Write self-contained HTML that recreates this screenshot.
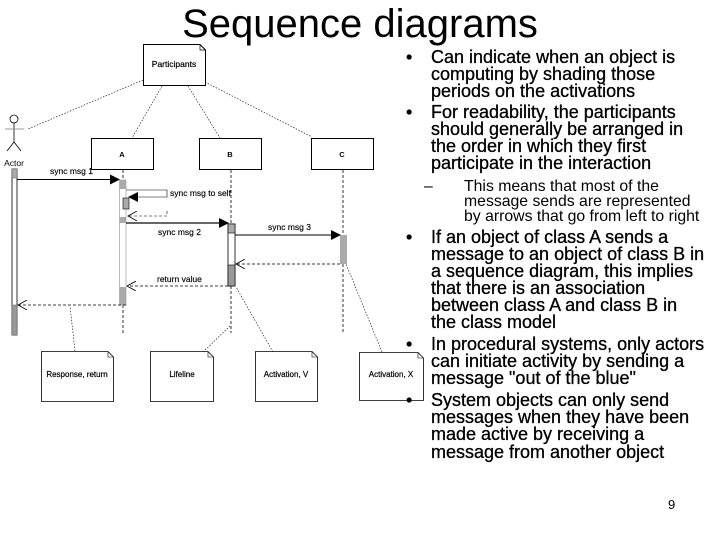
<!DOCTYPE html>
<html><head><meta charset="utf-8"><style>
html,body{margin:0;padding:0;background:#fff;}
body{width:720px;height:540px;overflow:hidden;position:relative;}
svg{position:absolute;left:0;top:0;}
</style></head><body>
<svg width="720" height="540" viewBox="0 0 720 540" font-family="Liberation Sans, Arial, sans-serif">
<defs>
<marker id="fa" markerWidth="10" markerHeight="10" refX="9" refY="5" orient="auto" markerUnits="userSpaceOnUse"><path d="M0,0 L10,5 L0,10 Z" fill="#000"/></marker>
<marker id="oa" markerWidth="10" markerHeight="10" refX="9" refY="5" orient="auto" markerUnits="userSpaceOnUse"><path d="M0,0 L9,5 L0,10" fill="none" stroke="#000" stroke-width="0.8"/></marker>
</defs>
<text x="360" y="37" font-size="40" text-anchor="middle">Sequence diagrams</text>

<path d="M143.5,44.5 H200 L205.5,50 V85.5 H143.5 Z" fill="#fff" stroke="#000"/>
<path d="M200,44.5 V50 H205.5" fill="none" stroke="#000" stroke-width="0.7"/>
<text x="174" y="67" font-size="8.5" text-anchor="middle" stroke="#000" stroke-width="0.2">Participants</text>
<g stroke="#000" stroke-width="0.6" stroke-dasharray="1.5,1.5" fill="none">
<line x1="143" y1="80" x2="28" y2="129"/>
<line x1="162" y1="86" x2="132" y2="138"/>
<line x1="188" y1="86" x2="220" y2="138"/>
<line x1="205" y1="82" x2="312" y2="137"/>
<line x1="75" y1="351" x2="70" y2="306"/>
<line x1="203" y1="352" x2="230" y2="326"/>
<line x1="273" y1="352" x2="236" y2="287"/>
<line x1="382" y1="352" x2="346" y2="264"/>
</g>

<circle cx="14" cy="119" r="4" fill="#fff" stroke="#000" stroke-width="0.8"/>
<line x1="14" y1="123" x2="14" y2="142" stroke="#000" stroke-width="0.8"/>
<line x1="5" y1="129" x2="24" y2="129" stroke="#999" stroke-width="1"/>
<line x1="14" y1="142" x2="7" y2="151" stroke="#000" stroke-width="0.8"/>
<line x1="14" y1="142" x2="21" y2="151" stroke="#000" stroke-width="0.8"/>
<text x="14" y="166" font-size="8.5" text-anchor="middle">Actor</text>

<rect x="91.5" y="138.5" width="62" height="31" fill="#fff" stroke="#000"/>
<text x="122" y="157" font-size="7.5" font-weight="bold" text-anchor="middle">A</text>
<rect x="199.5" y="138.5" width="62" height="31" fill="#fff" stroke="#000"/>
<text x="230" y="157" font-size="7.5" font-weight="bold" text-anchor="middle">B</text>
<rect x="311.5" y="138.5" width="62" height="31" fill="#fff" stroke="#000"/>
<text x="342" y="157" font-size="7.5" font-weight="bold" text-anchor="middle">C</text>

<g stroke="#000" stroke-width="0.8" stroke-dasharray="3,2">
<line x1="123" y1="170" x2="123" y2="180"/>
<line x1="123" y1="305" x2="123" y2="333"/>
<line x1="231" y1="170" x2="231" y2="224"/>
<line x1="231" y1="286" x2="231" y2="333"/>
<line x1="343" y1="170" x2="343" y2="235"/>
<line x1="343" y1="264" x2="343" y2="333"/>
</g>

<rect x="12" y="169" width="5" height="166" fill="#fff" stroke="#000" stroke-width="0.8"/>
<rect x="12" y="169" width="5" height="9" fill="#aaa" stroke="#666" stroke-width="0.5"/>
<rect x="12" y="305" width="5" height="30" fill="#999" stroke="#666" stroke-width="0.5"/>
<rect x="119.5" y="180" width="6.5" height="125" fill="#fff" stroke="#bbb" stroke-width="1"/>
<rect x="119.5" y="180" width="6.5" height="9" fill="#aaa"/>
<rect x="119.5" y="217" width="6.5" height="6" fill="#aaa"/>
<rect x="119.5" y="287" width="6.5" height="18" fill="#aaa"/>
<rect x="123" y="198" width="6" height="11" fill="#aaa" stroke="#000" stroke-width="0.6"/>
<rect x="228" y="224" width="7" height="62" fill="#fff" stroke="#000" stroke-width="0.8"/>
<rect x="228" y="224" width="7" height="9" fill="#aaa" stroke="#000" stroke-width="0.6"/>
<rect x="228" y="265" width="7" height="21" fill="#999" stroke="#000" stroke-width="0.6"/>
<rect x="340" y="235" width="7" height="29" fill="#aaa"/>

<g font-size="8.5" stroke="#000" stroke-width="0.15">
<text x="50" y="174">sync msg 1</text>
<text x="170" y="196">sync msg to self</text>
<text x="158" y="235">sync msg 2</text>
<text x="268" y="230">sync msg 3</text>
<text x="157" y="282">return value</text>
</g>
<line x1="17" y1="179.5" x2="119" y2="179.5" stroke="#000" stroke-width="1" marker-end="url(#fa)"/>
<polyline points="126,190 167,190 167,197 129,197" fill="none" stroke="#000" stroke-width="0.6" marker-end="url(#fa)"/>
<polyline points="167,211 167,216 128,216" fill="none" stroke="#000" stroke-width="0.6" stroke-dasharray="3,2" marker-end="url(#oa)"/>
<line x1="126" y1="223" x2="228" y2="223" stroke="#333" stroke-width="1.5" marker-end="url(#fa)"/>
<line x1="235" y1="235" x2="340" y2="235" stroke="#000" stroke-width="1" marker-end="url(#fa)"/>
<line x1="340" y1="264" x2="236" y2="264" stroke="#000" stroke-width="0.7" stroke-dasharray="3,2" marker-end="url(#oa)"/>
<line x1="228" y1="286" x2="127" y2="286" stroke="#000" stroke-width="0.7" stroke-dasharray="3,2" marker-end="url(#oa)"/>
<line x1="126" y1="305" x2="18" y2="305" stroke="#000" stroke-width="0.7" stroke-dasharray="3,2" marker-end="url(#oa)"/>

<g fill="#fff" stroke="#000" stroke-width="0.8">
<path d="M41.5,351.5 H108 L113.5,357 V401.5 H41.5 Z"/>
<path d="M150.5,351.5 H208 L213.5,357 V401.5 H150.5 Z"/>
<path d="M255.5,351.5 H312 L317.5,357 V401.5 H255.5 Z"/>
<path d="M359.5,352.5 H418 L423.5,358 V400.5 H359.5 Z"/>
</g>
<g fill="none" stroke="#000" stroke-width="0.6">
<path d="M108,351.5 V357 H113.5"/><path d="M208,351.5 V357 H213.5"/>
<path d="M312,351.5 V357 H317.5"/><path d="M418,352.5 V358 H423.5"/>
</g>
<g font-size="8" text-anchor="middle" stroke="#000" stroke-width="0.2">
<text x="77" y="377">Response, return</text>
<text x="182" y="377">Lifeline</text>
<text x="286" y="377">Activation, V</text>
<text x="391" y="377">Activation, X</text>
</g>

<g font-size="18" stroke="#000" stroke-width="0.3">
<text x="406" y="63">•</text><text x="431" y="63">Can indicate when an object is</text>
<text x="431" y="80">computing by shading those</text>
<text x="431" y="97">periods on the activations</text>
<text x="406" y="118">•</text><text x="431" y="118">For readability, the participants</text>
<text x="431" y="135">should generally be arranged in</text>
<text x="431" y="152">the order in which they first</text>
<text x="431" y="169">participate in the interaction</text>
</g>
<g font-size="15.8">
<text x="424" y="191">–</text><text x="464" y="191">This means that most of the</text>
<text x="464" y="206">message sends are represented</text>
<text x="464" y="221">by arrows that go from left to right</text>
</g>
<g font-size="18" stroke="#000" stroke-width="0.3">
<text x="406" y="243">•</text><text x="431" y="243">If an object of class A sends a</text>
<text x="431" y="260">message to an object of class B in</text>
<text x="431" y="277">a sequence diagram, this implies</text>
<text x="431" y="294">that there is an association</text>
<text x="431" y="311">between class A and class B in</text>
<text x="431" y="328">the class model</text>
<text x="406" y="350">•</text><text x="431" y="350">In procedural systems, only actors</text>
<text x="431" y="367">can initiate activity by sending a</text>
<text x="431" y="384">message "out of the blue"</text>
<text x="406" y="406">•</text><text x="431" y="406">System objects can only send</text>
<text x="431" y="423">messages when they have been</text>
<text x="431" y="440">made active by receiving a</text>
<text x="431" y="458">message from another object</text>
</g>
<text x="668" y="509" font-size="13">9</text>
</svg>
</body></html>
